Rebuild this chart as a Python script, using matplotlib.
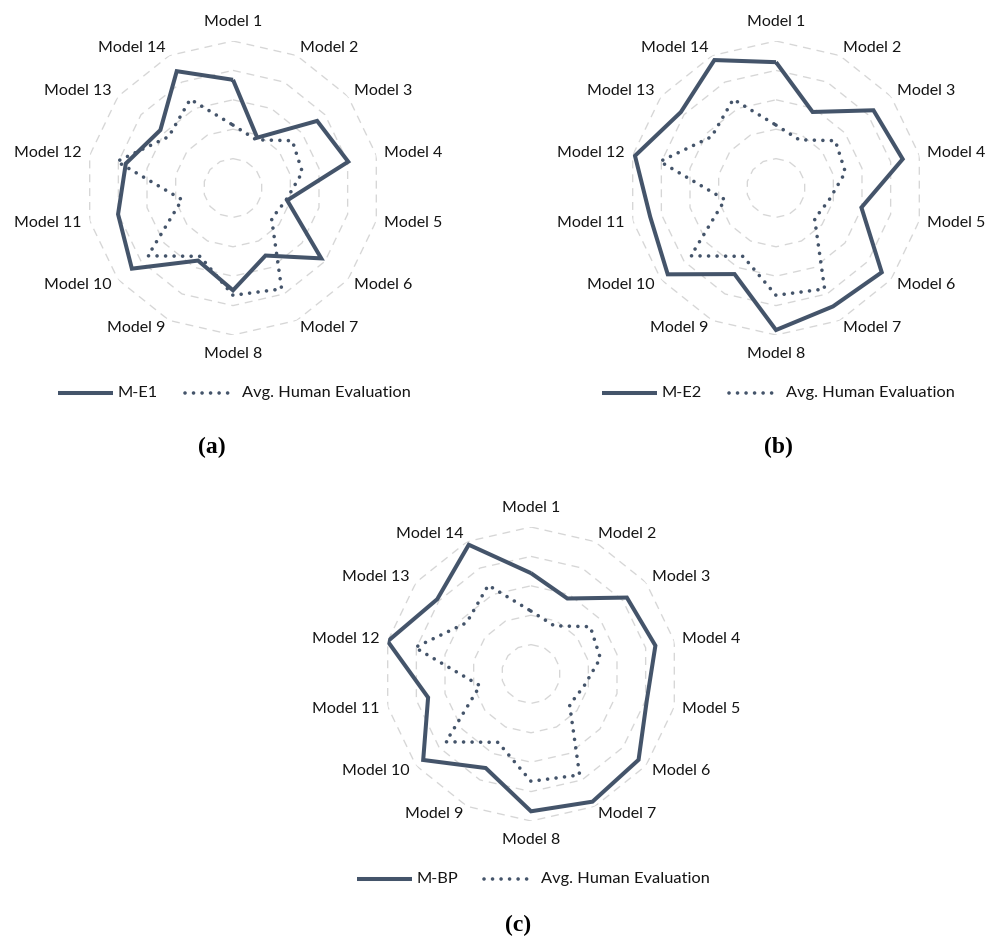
import numpy as np
import matplotlib
matplotlib.use("Agg")
import matplotlib.pyplot as plt
from matplotlib.lines import Line2D

# ---- data -----------------------------------------------------------------
models = [f"Model {i}" for i in range(1, 15)]
human_avg = [2.14, 1.82, 2.58, 2.42, 1.85, 1.68, 3.81, 3.65, 2.58, 3.70, 1.78, 4.05, 2.80, 3.35]
m_e1 = [3.68, 1.90, 3.66, 4.02, 1.89, 3.84, 2.55, 3.48, 2.74, 4.40, 4.01, 3.74, 3.16, 4.41]
m_e2 = [4.28, 2.87, 4.24, 4.42, 2.98, 4.60, 4.47, 4.83, 3.25, 4.71, 4.39, 4.92, 4.14, 4.83]
m_bp = [3.43, 2.85, 4.17, 4.34, 4.04, 4.68, 4.82, 4.67, 3.55, 4.69, 3.59, 5.00, 4.08, 4.88]
ring_levels = [1, 2, 3, 4, 5]
metric_names = ["M-E1", "M-E2", "M-BP"]
human_name = "Avg. Human Evaluation"
captions = ["(a)", "(b)", "(c)"]

# ---- styling --------------------------------------------------------------
LINE_C = "#44546A"
GRID_C = "#D6D6D6"
TEXT_C = "#141414"
FONT = "Lato"
FS = 11.5

W, H = 987, 938
R = 147  # pixel radius of the outer ring
panels = [
    dict(values=m_e1, center=(233, 188), legend=(58, 393), caption=(212, 447)),
    dict(values=m_e2, center=(776, 188), legend=(602, 393), caption=(778, 447)),
    dict(values=m_bp, center=(531, 674), legend=(357, 879), caption=(518, 925)),
]

fig = plt.figure(figsize=(W / 100, H / 100), dpi=100)
fig.patch.set_facecolor("white")

n = len(models)
theta = np.linspace(0, 2 * np.pi, n, endpoint=False)
theta_c = np.append(theta, theta[0])


def closed(v):
    v = list(v)
    return v + v[:1]


def px(x, y):
    """figure-fraction coordinates from pixel coordinates (origin top-left)"""
    return x / W, 1 - y / H


solid_kw = dict(color=LINE_C, lw=2.9, solid_joinstyle="miter", solid_capstyle="butt")
dot_kw = dict(color=LINE_C, lw=2.6, linestyle=(0, (0.01, 2.35)), dash_capstyle="round")

for name, cap, p in zip(metric_names, captions, panels):
    cx, cy = p["center"]
    l, b = px(cx - R, cy + R)
    ax = fig.add_axes([l, b, 2 * R / W, 2 * R / H], projection="polar")
    ax.set_theta_offset(np.pi / 2)
    ax.set_theta_direction(-1)
    ax.set_ylim(0, 5)
    ax.grid(False)
    ax.set_xticks([])
    ax.set_yticks([])
    ax.spines["polar"].set_visible(False)
    ax.patch.set_alpha(0)

    # polygon gridlines
    for lev in ring_levels:
        ax.plot(theta_c, [lev] * (n + 1), color=GRID_C, lw=0.95,
                linestyle=(0, (6, 4.5)), zorder=1)

    ax.plot(theta_c, closed(p["values"]), zorder=3, **solid_kw)
    ax.plot(theta_c, closed(human_avg), zorder=4, **dot_kw)

    # category labels
    for t, lab in zip(theta, models):
        s, c = np.sin(t), np.cos(t)
        if abs(s) < 1e-6:
            ha = "center"
            va = "bottom" if c > 0 else "top"
            r = 5.42
        else:
            ha = "left" if s > 0 else "right"
            va = "center"
            r = 5.28
        ax.text(t, r, lab, ha=ha, va=va, fontsize=FS, family=FONT,
                color=TEXT_C, clip_on=False)

    # legend
    lx, ly = p["legend"]
    fig.add_artist(Line2D([lx / W, (lx + 55) / W], [1 - ly / H] * 2,
                          transform=fig.transFigure, **solid_kw))
    fig.text((lx + 60) / W, 1 - ly / H, name, ha="left", va="center",
             fontsize=FS + 0.3, family=FONT, color=TEXT_C)
    dx0 = lx + 127
    fig.add_artist(Line2D([dx0 / W, (dx0 + 48) / W], [1 - ly / H] * 2,
                          transform=fig.transFigure, **dot_kw))
    fig.text((dx0 + 57) / W, 1 - ly / H, human_name, ha="left", va="center",
             fontsize=FS + 0.3, family=FONT, color=TEXT_C)

    # panel caption
    fx, fy = px(*p["caption"])
    fig.text(fx, fy, cap, ha="center", va="center", fontsize=17,
             family="Liberation Serif", weight="bold", color="black")

fig.savefig("out.png", dpi=100, facecolor="white")
